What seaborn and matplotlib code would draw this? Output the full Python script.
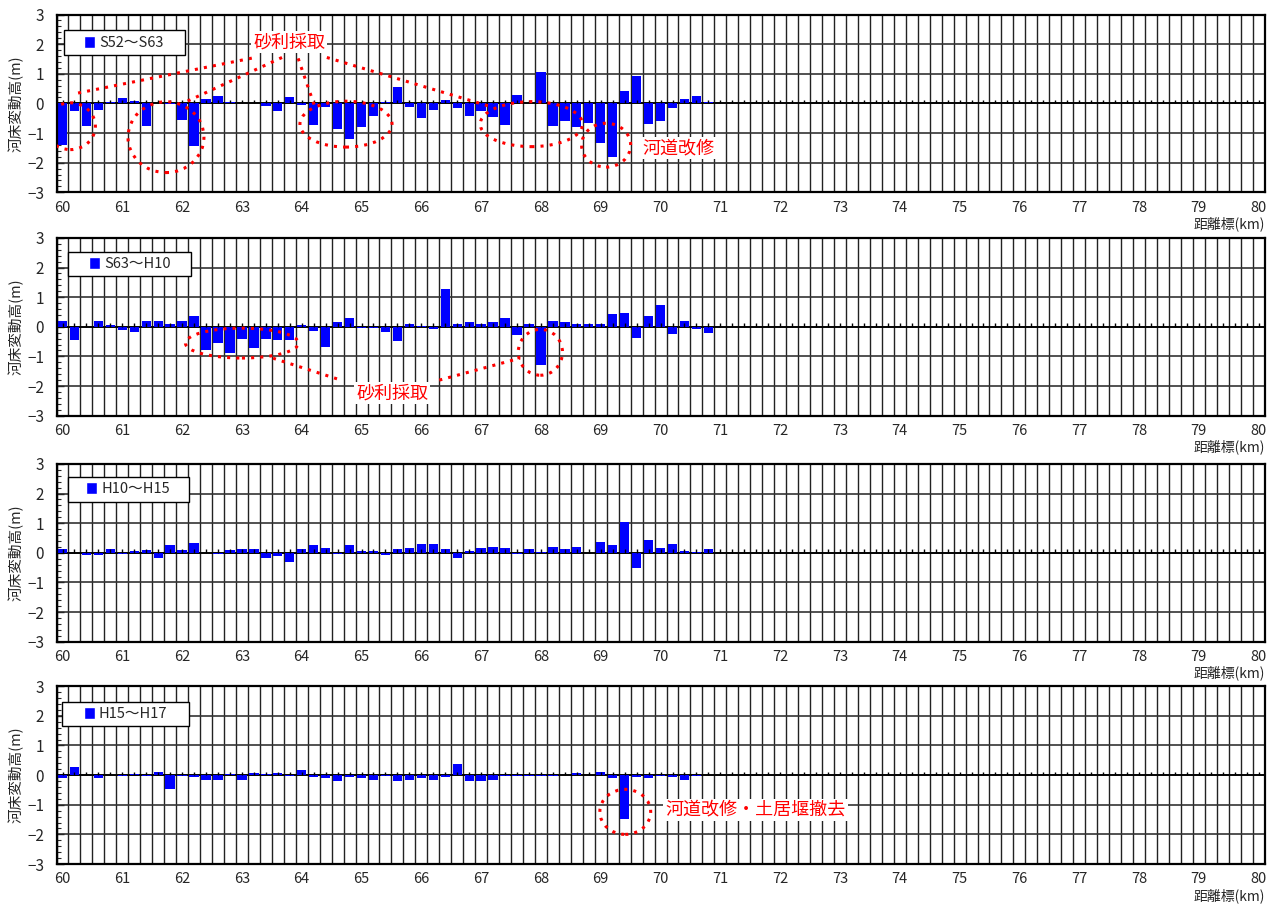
import numpy as np
import pandas as pd
import seaborn as sns
import matplotlib.pyplot as plt
from matplotlib.patches import Ellipse, Rectangle, Patch

# distance markers with data (km), 0.2 km pitch
km = np.round(np.arange(60.0, 70.9, 0.2), 1)

s52_s63 = [-1.40, -0.25, -0.76, -0.21, 0.05, 0.18, 0.09, -0.76, 0.00, -0.02,
           -0.55, -1.43, 0.15, 0.25, 0.04, 0.00, 0.00, -0.08, -0.25, 0.21,
           -0.04, -0.73, -0.11, -0.85, -1.19, -0.80, -0.42, 0.04, 0.55, -0.11,
           -0.48, -0.21, 0.11, -0.15, -0.42, -0.25, -0.45, -0.72, 0.28, 0.00,
           1.06, -0.76, -0.59, -0.80, -0.66, -1.33, -1.81, 0.43, 0.93, -0.69,
           -0.59, -0.15, 0.15, 0.25, 0.04]
s63_h10 = [0.20, -0.46, 0.00, 0.18, 0.06, -0.12, -0.19, 0.21, 0.18, 0.11,
           0.21, 0.38, -0.80, -0.55, -0.87, -0.42, -0.72, -0.42, -0.45, -0.45,
           0.06, -0.15, -0.69, 0.15, 0.28, -0.04, -0.04, -0.18, -0.48, 0.11,
           0.01, -0.08, 1.26, 0.11, 0.15, 0.08, 0.15, 0.28, -0.28, 0.11,
           -1.29, 0.18, 0.15, 0.11, 0.08, 0.08, 0.42, 0.45, -0.38, 0.35,
           0.75, -0.25, 0.18, -0.08, -0.21]
h10_h15 = [0.12, 0.01, -0.07, -0.07, 0.12, -0.03, 0.06, 0.09, -0.17, 0.26,
           0.09, 0.33, 0.01, -0.03, 0.09, 0.12, 0.12, -0.17, -0.10, -0.32,
           0.12, 0.26, 0.16, -0.03, 0.26, 0.06, 0.06, -0.07, 0.12, 0.16,
           0.29, 0.29, 0.12, -0.17, 0.06, 0.16, 0.19, 0.16, -0.03, 0.12,
           0.02, 0.19, 0.12, 0.19, 0.00, 0.36, 0.26, 1.04, -0.51, 0.43,
           0.16, 0.29, 0.06, 0.02, 0.12]
h15_h17 = [-0.11, 0.28, 0.00, -0.11, 0.00, -0.04, 0.04, -0.04, 0.11, -0.48,
           -0.04, -0.08, -0.15, -0.15, 0.04, -0.15, 0.08, 0.04, 0.08, -0.04,
           0.18, -0.08, -0.11, -0.21, -0.08, -0.11, -0.15, -0.04, -0.21, -0.15,
           -0.11, -0.18, -0.08, 0.38, -0.21, -0.21, -0.18, -0.04, -0.04, -0.04,
           -0.04, -0.04, 0.00, 0.08, 0.00, 0.11, -0.11, -1.49, -0.08, -0.11,
           -0.04, -0.08, -0.15, -0.04, 0.00]

periods = ['S52～S63', 'S63～H10', 'H10～H15', 'H15～H17']
series = [s52_s63, s63_h10, h10_h15, h15_h17]

x_labels = list(range(60, 81))
y_ticks = [-3, -2, -1, 0, 1, 2, 3]
centers = np.round(np.arange(60.0, 80.1, 0.2), 1)
edges = np.round(np.arange(59.9, 80.2, 0.2), 1)

# red annotations, in data units: ellipses (x, y, w, h), dotted lines, labels
ellipses = [
    [(60.13, -0.77, 0.84, 1.58), (61.73, -1.14, 1.27, 2.39), (64.74, -0.70, 1.54, 1.55),
     (67.84, -0.70, 1.71, 1.52), (69.09, -1.41, 0.82, 1.48)],
    [(63.0, -0.55, 1.89, 1.01), (67.99, -0.86, 0.74, 1.55)],
    [],
    [(69.41, -1.24, 0.85, 1.52)],
]
leaders = [
    [((60.26, 63.22), (0.35, 1.55)), ((63.67, 62.05), (1.55, 0.04)),
     ((63.94, 64.22), (1.52, -0.12)), ((64.42, 67.18), (1.55, -0.12))],
    [((63.52, 64.61), (-1.06, -1.77)), ((66.30, 67.65), (-1.80, -1.06))],
    [],
    [],
]
notes = [
    [(63.79, 2.07, '砂利採取', 'center'), (69.69, -1.51, '河道改修', 'left')],
    [(65.51, -2.24, '砂利採取', 'center')],
    [],
    [(70.08, -1.17, '河道改修・土居堰撤去', 'left')],
]
legend_boxes = [(0.006, 0.771, 0.100, 0.141), (0.0095, 0.788, 0.102, 0.135),
                (0.0095, 0.787, 0.100, 0.140), (0.0046, 0.774, 0.105, 0.140)]
panel_bottoms = [0.788, 0.5417, 0.2925, 0.0474]

sns.set_style('white')
plt.rcParams['font.family'] = ['Noto Sans CJK JP', 'DejaVu Sans']

fig = plt.figure(figsize=(12.82, 9.07), dpi=100)
dot = (0, (1, 2))

for i in range(4):
    ax = fig.add_axes([0.0441, panel_bottoms[i], 0.9423, 0.196])
    df = pd.DataFrame({'km': km, 'dz': series[i]})
    sns.barplot(data=df, x='km', y='dz', native_scale=True, color='blue',
                saturation=1, width=0.78, errorbar=None, ax=ax, zorder=2,
                edgecolor='none', linewidth=0)

    ax.set_xlim(59.9, 80.1)
    ax.set_ylim(-3, 3)
    ax.set_xticks(x_labels)
    ax.set_xticklabels([str(v) for v in x_labels])
    ax.set_xticks(edges, minor=True)
    ax.set_yticks(y_ticks)
    ax.set_yticklabels(['−3', '−2', '−1', '0', '1', '2', '3'])
    ax.set_yticks(np.round(np.arange(-3, 3.01, 0.2), 1), minor=True)
    ax.grid(False)
    ax.grid(which='minor', axis='x', color='#222222', lw=1.0)
    ax.grid(which='major', axis='y', color='#333333', lw=1.2)
    ax.axhline(0, color='black', lw=1.3, zorder=1.5)
    ax.set_axisbelow(True)

    # small category ticks on the zero line
    ax.vlines(centers, 0, 0.12, color='black', lw=1, zorder=3)

    ax.tick_params(axis='x', which='both', length=0, pad=6, labelsize=10.5)
    ax.tick_params(axis='y', which='major', direction='in', length=5, width=1,
                   labelsize=11, pad=9, left=True)
    ax.tick_params(axis='y', which='minor', direction='in', length=3, width=0.8, left=True)
    for s in ax.spines.values():
        s.set_color('black')
        s.set_linewidth(1.6)

    ax.set_xlabel('')
    ax.set_ylabel('河床変動高(m)', fontsize=10.5)
    ax.yaxis.set_label_coords(-0.027, 0.5)
    ax.text(1.0, -0.135, '距離標(km)', transform=ax.transAxes, ha='right',
            va='top', fontsize=10)

    # legend box
    bx, by, bw, bh = legend_boxes[i]
    ax.add_patch(Rectangle((bx, by), bw, bh, transform=ax.transAxes,
                           facecolor='white', edgecolor='black', lw=1, zorder=4))
    ax.legend(handles=[Patch(facecolor='blue', label=periods[i])], loc='center',
              bbox_to_anchor=(bx + bw / 2, by + bh / 2), frameon=False,
              handlelength=0.75, handleheight=0.9, handletextpad=0.3,
              fontsize=10.5, borderpad=0)

    for (cx, cy, w, h) in ellipses[i]:
        ax.add_patch(Ellipse((cx, cy), w, h, fill=False, edgecolor='red',
                             lw=2.2, ls=dot, zorder=6))
    for (xs, ys) in leaders[i]:
        ax.plot(xs, ys, color='red', lw=2.2, ls=dot, zorder=6)
    for (tx, ty, s, ha) in notes[i]:
        ax.text(tx, ty, s, color='red', fontsize=13, ha=ha, va='center', zorder=7,
                bbox=dict(facecolor='white', edgecolor='none', pad=1.5))

fig.savefig('out.png', dpi=100)
